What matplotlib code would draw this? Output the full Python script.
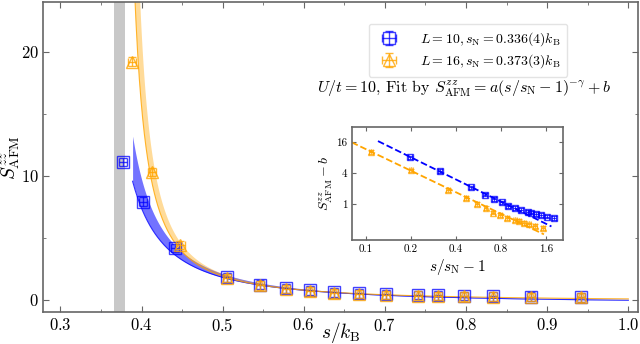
import numpy as np
import matplotlib
matplotlib.use("Agg")
import matplotlib.pyplot as plt
from matplotlib.ticker import FixedLocator, NullLocator, MultipleLocator

plt.rcParams.update({
    "font.family": "serif",
    "font.serif": ["cmr10"],
    "mathtext.fontset": "cm",
    "axes.formatter.use_mathtext": True,
    "axes.unicode_minus": False,
})

# --- data ---
s_L10 = [0.377, 0.402, 0.441, 0.505, 0.546, 0.578, 0.608, 0.637, 0.668,
         0.701, 0.741, 0.765, 0.798, 0.833, 0.880, 0.942]
S_L10 = [11.1, 7.9, 4.15, 1.80, 1.20, 0.92, 0.75, 0.58, 0.50,
         0.42, 0.36, 0.34, 0.30, 0.27, 0.23, 0.19]
s_L16 = [0.388, 0.413, 0.448, 0.505, 0.546, 0.578, 0.608, 0.637, 0.668,
         0.701, 0.741, 0.765, 0.798, 0.833, 0.880, 0.942]
S_L16 = [19.2, 10.3, 4.4, 1.75, 1.15, 0.85, 0.68, 0.52, 0.45,
         0.38, 0.32, 0.30, 0.27, 0.24, 0.21, 0.18]
s_err = 0.005
S_err = 0.35

# fit parameters  S = a (s/sN - 1)^(-gamma) + b
sN_L10, dsN_L10, a_L10, gam_L10, b_L10 = 0.336, 0.005, 0.82, 1.43, -0.35
sN_L16, dsN_L16, a_L16, gam_L16, b_L16 = 0.373, 0.003, 0.48, 1.39, -0.17
fit_start_L10, fit_start_L16 = 0.389, 0.385
inset_min_L10, inset_min_L16 = 0.40, 0.41
inset_line_L10 = (0.12, 1.74)
inset_line_L16 = (0.08, 1.55)

gap_band = (0.366, 0.380)

label_L10 = r"$L=10, s_{\rm N}=0.336(4)k_{\rm B}$"
label_L16 = r"$L=16, s_{\rm N}=0.373(3)k_{\rm B}$"

c10 = "blue"
c16 = "orange"
spine_c = "#666666"


def fit(s, sN, a, g, b):
    return a * (s / sN - 1.0) ** (-g) + b


fig = plt.figure(figsize=(6.4, 3.44), dpi=100)
ax = fig.add_axes([0.0677, 0.093, 0.9293, 0.901])

ax.axvspan(*gap_band, color="#c8c8c8", lw=0, zorder=0)

# fit bands
for start, sN, d, a, g, b, c, al in [
        (fit_start_L10, sN_L10, dsN_L10, a_L10, gam_L10, b_L10, c10, 0.55),
        (fit_start_L16, sN_L16, dsN_L16, a_L16, gam_L16, b_L16, c16, 0.4)]:
    s = np.linspace(start, 1.0, 600)
    lo = fit(s, sN - d, a, g, b)
    hi = fit(s, sN + d, a, g, b)
    ax.fill_between(s, lo, np.minimum(hi, 200), color=c, alpha=al, lw=0, zorder=1)
    ax.plot(s, lo, color=c, lw=0.8, alpha=0.8, zorder=1)

h10 = ax.errorbar(s_L10, S_L10, xerr=s_err, yerr=S_err, marker="s", ms=8,
                  mfc="none", mec=c10, color=c10, alpha=0.75,
                  capsize=3, elinewidth=1, capthick=1, ls="none", zorder=3,
                  label=label_L10)
h16 = ax.errorbar(s_L16, S_L16, xerr=s_err, yerr=S_err, marker="^", ms=8,
                  mfc="none", mec=c16, color=c16, alpha=0.8,
                  capsize=3, elinewidth=1, capthick=1, ls="none", zorder=4,
                  label=label_L16)

ax.set_xlim(0.279, 1.012)
ax.set_ylim(-1, 24)
ax.xaxis.set_major_locator(MultipleLocator(0.1))
ax.xaxis.set_minor_locator(MultipleLocator(0.05))
ax.yaxis.set_major_locator(MultipleLocator(10))
ax.yaxis.set_minor_locator(MultipleLocator(5))
ax.tick_params(which="both", direction="in", top=True, right=True,
               color=spine_c, labelsize=12)
ax.tick_params(which="major", length=4)
ax.tick_params(which="minor", length=2.5)
for sp in ax.spines.values():
    sp.set_color(spine_c)
    sp.set_linewidth(1.2)
ax.set_xlabel(r"$s/k_{\rm B}$", fontsize=14)
ax.xaxis.set_label_coords(0.5, -0.027)
ax.xaxis.label.set_va("top")
ax.set_ylabel(r"$S^{zz}_{\rm AFM}$", fontsize=14)
ax.yaxis.set_label_coords(-0.036, 0.5)

leg = ax.legend(handles=[h10, h16], loc="upper center",
                bbox_to_anchor=(0.714, 0.953), fontsize=10, frameon=True,
                handletextpad=1.2, borderpad=0.5, labelspacing=0.3)
leg.get_frame().set_edgecolor("#dddddd")

ax.text(0.708, 0.72,
        r"$U/t=10$, Fit by $S^{zz}_{\rm AFM}=a(s/s_{\rm N}-1)^{-\gamma}+b$",
        transform=ax.transAxes, ha="center", va="center", fontsize=11.5)

# --- inset ---
axi = fig.add_axes([0.5495, 0.3015, 0.3297, 0.3294])
axi.set_xscale("log")
axi.set_yscale("log")

for s_arr, S_arr, smin, sN, a, g, b, c, m, seg in [
        (s_L10, S_L10, inset_min_L10, sN_L10, a_L10, gam_L10, b_L10, c10, "s", inset_line_L10),
        (s_L16, S_L16, inset_min_L16, sN_L16, a_L16, gam_L16, b_L16, c16, "^", inset_line_L16)]:
    s_arr = np.array(s_arr)
    S_arr = np.array(S_arr)
    keep = s_arr > smin
    xr = s_arr[keep] / sN - 1.0
    yr = S_arr[keep] - b
    axi.errorbar(xr, yr, xerr=0.03 * xr, yerr=0.08 * yr, marker=m, ms=5,
                 mfc="none", mec=c, color=c, alpha=0.75, capsize=2,
                 elinewidth=0.8, capthick=0.8, ls="none", zorder=3)
    xl = np.geomspace(seg[0], seg[1], 100)
    axi.plot(xl, a * xl ** (-g), ls="--", color=c, lw=1.3, zorder=2)

axi.set_xlim(0.08, 2.07)
axi.set_ylim(0.2, 32)
axi.xaxis.set_major_locator(FixedLocator([0.1, 0.2, 0.4, 0.8, 1.6]))
axi.set_xticklabels(["0.1", "0.2", "0.4", "0.8", "1.6"])
axi.yaxis.set_major_locator(FixedLocator([1, 4, 16]))
axi.set_yticklabels(["1", "4", "16"])
axi.xaxis.set_minor_locator(NullLocator())
axi.yaxis.set_minor_locator(NullLocator())
axi.tick_params(which="both", direction="in", top=True, right=True,
                color=spine_c, labelsize=8, length=3, pad=3)
for sp in axi.spines.values():
    sp.set_color(spine_c)
    sp.set_linewidth(1.2)
axi.set_xlabel(r"$s/s_{\rm N}-1$", fontsize=11, labelpad=2)
axi.set_ylabel(r"$S^{zz}_{\rm AFM}-b$", fontsize=10, labelpad=1)

fig.savefig("out.png", dpi=100)
